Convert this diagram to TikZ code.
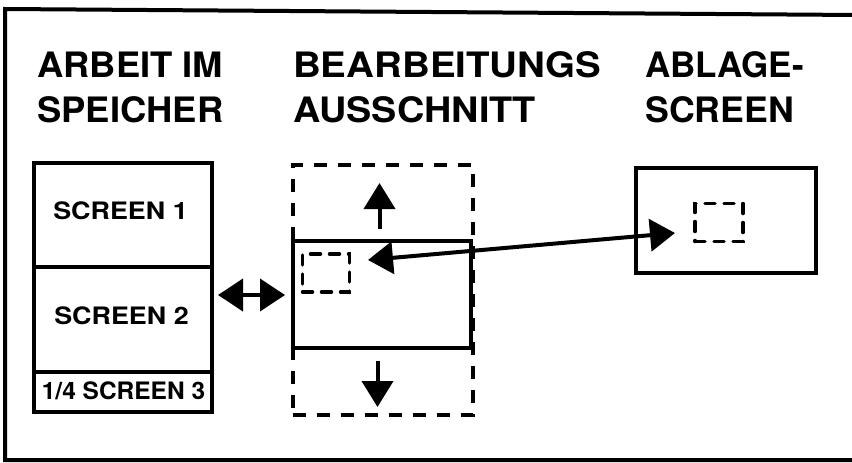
\documentclass[tikz,border=0pt]{standalone}
\usepackage{graphicx}
\usepackage{fontspec}
\setmainfont{TeX Gyre Heros}
\usetikzlibrary{arrows.meta}
\begin{document}
\begin{tikzpicture}[x=1pt,y=-1pt,
  box/.style={draw,line width=4pt,inner sep=0pt,outer sep=0pt,fill=white},
  dbox/.style={draw,line width=4pt,inner sep=0pt,outer sep=0pt,dash pattern=on 13pt off 11pt},
  sdash/.style={draw,line width=3.5pt,inner sep=0pt,outer sep=0pt,line cap=round,dash pattern=on 10pt off 9pt},
  head/.style={font=\fontsize{35}{42}\selectfont\bfseries,inner sep=0pt,anchor=base west},
  lab/.style={font=\fontsize{24}{28}\selectfont\bfseries,inner sep=0pt},
  tipend/.style={-{Triangle[width=31pt,length=26pt]},line width=4pt},
  tipboth/.style={{Triangle[width=32pt,length=25pt]}-{Triangle[width=32pt,length=25pt]},line width=4pt},
]
\useasboundingbox (0,0) rectangle (852,463);
% outer frame
\draw[line width=4pt] (858,15) -- (5,9) -- (5,460) -- (858,460);

% headings
\node[head] (h1a) at (37,77.5) {\scalebox{1.04}[1]{ARBEIT IM}};
\node[head] (h1b) at (37,122) {\scalebox{1.04}[1]{SPEICHER}};
\node[head] (h2a) at (293,77.5) {\scalebox{1.1}[1]{BEARBEITUNGS}};
\node[head] (h2b) at (293,122) {\scalebox{1.08}[1]{AUSSCHNITT}};
\node[head] (h3a) at (645,77.5) {\scalebox{1.0}[1]{ABLAGE-}};
\node[head] (h3b) at (645,122) {\scalebox{1.02}[1]{SCREEN}};

% left column
\node[box,minimum width=178pt,minimum height=104pt] (s1) at (123,214.5) {};
\node[box,minimum width=178pt,minimum height=105pt] (s2) at (123,319) {};
\node[box,minimum width=178pt,minimum height=40pt] (s3) at (123,391.5) {};
\node[lab] (t1) at (120.5,211) {\scalebox{1.12}[1]{SCREEN 1}};
\node[lab] (t2) at (121.5,316) {\scalebox{1.12}[1]{SCREEN 2}};
\node[lab] (t3) at (123.5,390.5) {\scalebox{1.02}[1]{1/4 SCREEN 3}};

% middle
\node[dbox,minimum width=180pt,minimum height=250pt] (dm) at (382.5,289.5) {};
\node[box,minimum width=178pt,minimum height=107pt] (sm) at (381.5,294) {};
\node[sdash,minimum width=47pt,minimum height=38pt] (q1) at (326,273) {};

% right
\node[box,minimum width=180pt,minimum height=105pt] (rb) at (725.5,220) {};
\node[sdash,minimum width=48pt,minimum height=38pt] (q2) at (719,222.5) {};

% arrows
\coordinate (upS) at (379.5,229);
\coordinate (upE) at (379.5,183);
\coordinate (dnS) at (377.5,361);
\coordinate (dnE) at (377.5,407);
\coordinate (dlA) at (218,295);
\coordinate (dlB) at (285,295);
\coordinate (lgA) at (368,260);
\coordinate (lgB) at (675,233);
\draw[tipend] (upS) -- (upE);
\draw[tipend] (dnS) -- (dnE);
\draw[tipboth] (dlA) -- (dlB);
\draw[tipboth] (lgA) -- (lgB);
\end{tikzpicture}
\end{document}
